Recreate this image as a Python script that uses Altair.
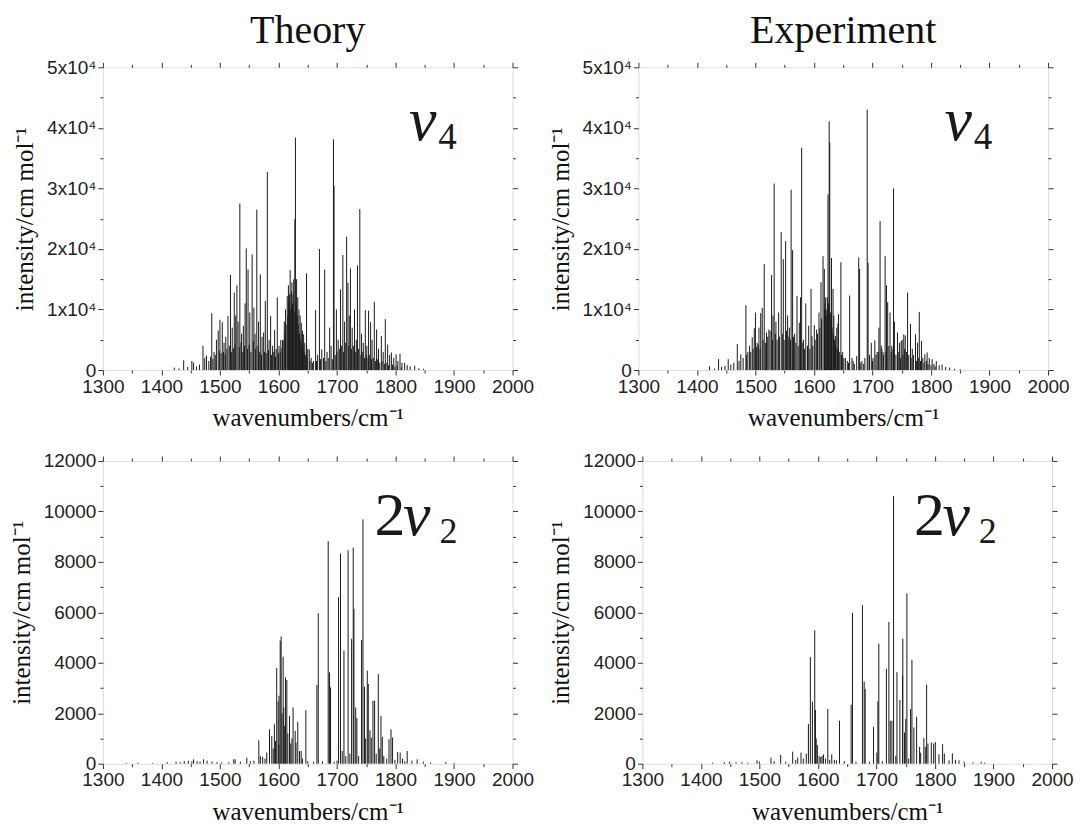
import altair as alt
import pandas as pd

# ---------------- data ----------------
# Theory, nu4 band
th4_wn = [1422, 1430, 1438, 1445, 1452, 1455, 1460, 1465, 1471, 1474, 1477, 1481, 1486, 1490, 1494, 1497,
          1500, 1504, 1507, 1510, 1513.7, 1518, 1521, 1524.5, 1527, 1529, 1531, 1534, 1537, 1540, 1543, 1545,
          1548, 1551, 1555, 1558, 1560, 1563, 1566, 1569, 1572, 1574.7, 1577.5, 1581, 1584, 1586.6, 1590, 1593.4,
          1596, 1598, 1601, 1604, 1607, 1610, 1612, 1615, 1617, 1620, 1622, 1624, 1626, 1628, 1629, 1631,
          1633, 1635, 1637, 1639, 1641, 1643, 1645, 1648, 1650, 1652.7, 1656, 1660, 1663.5, 1667, 1670, 1674,
          1677, 1679, 1683, 1687.5, 1690, 1694, 1695, 1699, 1702, 1706, 1710, 1713, 1716.5, 1718.8, 1721, 1723,
          1726, 1730, 1733, 1735, 1739, 1742, 1745, 1748.4, 1751, 1754, 1757.5, 1760, 1763.8, 1767.7, 1771, 1775.8,
          1779, 1782.6, 1786.6, 1790, 1793, 1797, 1801, 1804, 1807.7, 1811, 1815.7, 1820, 1825, 1832.8, 1840, 1848,
          1484, 1488, 1492, 1499, 1502, 1506, 1509, 1512, 1516, 1520, 1523, 1526, 1533, 1536, 1539, 1542,
          1547, 1550, 1553, 1557, 1561, 1565, 1568, 1571, 1576, 1579, 1583, 1588, 1592, 1595, 1600, 1603,
          1606, 1608, 1611, 1613, 1616, 1618, 1619, 1621, 1623, 1625, 1627, 1630, 1632, 1634, 1636, 1638,
          1640, 1642, 1644, 1646, 1649, 1654, 1658, 1665, 1672, 1681, 1685, 1692, 1697, 1700, 1704, 1708,
          1711, 1715, 1720, 1725, 1728, 1732, 1737, 1741, 1744, 1747, 1750, 1753, 1756, 1759, 1762, 1766,
          1769, 1773, 1777, 1781, 1784, 1788, 1795, 1799, 1803, 1810]
th4_int = [400, 250, 1600, 500, 1500, 1200, 600, 900, 4000, 2000, 2400, 1500, 9400, 3000, 5000, 6500,
           8300, 7900, 4500, 5500, 8900, 15700, 7000, 12800, 9000, 14000, 8000, 27500, 6000, 7300, 11000, 20100,
           16600, 9500, 19100, 10300, 6000, 26500, 8000, 15800, 5500, 6200, 11400, 32700, 5000, 8900, 4000, 6600,
           3500, 12000, 4000, 5000, 4900, 8000, 10000, 12200, 14000, 16500, 13000, 11000, 15000, 24900, 38400, 15000,
           12000, 10000, 9000, 7800, 6500, 5900, 4500, 16000, 3500, 3400, 2000, 1500, 9900, 2500, 20000, 3400,
           2000, 16600, 3000, 7000, 4000, 38100, 30400, 10000, 5000, 13300, 19000, 8000, 22000, 14400, 9000, 16800,
           7000, 10000, 5000, 17300, 26600, 6000, 4500, 9900, 4000, 9800, 7900, 5000, 11300, 6700, 3500, 5600,
           3000, 8400, 4200, 2500, 2900, 2000, 2600, 1500, 2700, 1200, 1200, 800, 600, 700, 300, 200,
           2200, 1800, 2500, 3200, 2800, 3000, 2600, 3500, 4000, 3000, 3600, 4200, 3800, 4500, 3000, 4000,
           3500, 4200, 3000, 4800, 3500, 4000, 3000, 2500, 3000, 2800, 3300, 2500, 3000, 2200, 2800, 3000,
           3600, 5000, 6000, 7500, 9000, 11000, 12500, 10000, 14500, 12500, 9500, 11000, 9000, 7500, 6000, 5000,
           4200, 3500, 3000, 2500, 2000, 1500, 1200, 1500, 1800, 1500, 2000, 1800, 2500, 3000, 3500, 4000,
           3000, 4500, 4000, 3500, 4000, 3000, 3500, 2500, 3000, 2000, 2500, 2000, 2500, 1800, 2000, 1500,
           1800, 1200, 1500, 1000, 1200, 800, 900, 600, 700, 400]

# Experiment, nu4 band
ex4_wn = [1421.5, 1430, 1437, 1442, 1448, 1453.5, 1458, 1463, 1469, 1472, 1475, 1479, 1483.7, 1487, 1490, 1494.5,
          1498, 1500, 1503, 1506, 1509, 1511.6, 1515, 1519, 1523, 1527.6, 1530, 1532, 1535, 1539.6, 1544, 1547.6,
          1551.6, 1555, 1558, 1561, 1563.5, 1567, 1571, 1575, 1577, 1579, 1582, 1586, 1591, 1595, 1596.6, 1600.6,
          1604.6, 1608.6, 1612, 1615.5, 1617.7, 1620, 1622, 1624, 1626, 1627, 1630, 1632.6, 1634, 1636.6, 1639, 1641,
          1642, 1646, 1649, 1653.7, 1657, 1661, 1665, 1669, 1673, 1676.5, 1678, 1682, 1687, 1691, 1692.5, 1695,
          1698, 1701, 1704, 1708, 1711, 1713, 1715, 1718, 1721.6, 1724, 1726, 1730, 1733, 1736, 1737.5, 1742.7,
          1746, 1749, 1750.7, 1753.5, 1756, 1760, 1765, 1768, 1773.5, 1777, 1780, 1783.7, 1786, 1789.5, 1793.4, 1797,
          1802, 1805, 1809, 1814, 1819, 1825, 1832, 1840, 1850,
          1485, 1492, 1496, 1502, 1505, 1508, 1513, 1517, 1521, 1525, 1529, 1534, 1537, 1541, 1546, 1549,
          1553, 1557, 1560, 1565, 1569, 1573, 1581, 1584, 1589, 1593, 1598, 1602, 1606, 1610, 1613, 1618,
          1619, 1621, 1623, 1625, 1628, 1629, 1631, 1633, 1635, 1637, 1640, 1644, 1647, 1651, 1659, 1667,
          1680, 1685, 1700, 1706, 1710, 1716, 1719, 1723, 1728, 1732, 1735, 1740, 1744, 1748, 1752, 1755,
          1758, 1762, 1766, 1770, 1775, 1779, 1782, 1788, 1792, 1795, 1800, 1807]
ex4_int = [600, 200, 1800, 500, 700, 1800, 900, 1200, 4300, 1500, 2600, 2000, 10700, 3000, 4000, 5400,
           6900, 9500, 4500, 7000, 9400, 10300, 17500, 6200, 6700, 15700, 9000, 30800, 8000, 9500, 22800, 18300,
           21300, 9000, 7000, 29800, 19800, 6000, 12200, 7800, 12000, 36700, 5000, 11000, 7300, 13400, 5600, 7400,
           6700, 9500, 14500, 18800, 16700, 12000, 10000, 29000, 41100, 37600, 18500, 13400, 9000, 5600, 7000, 7700,
           9200, 17800, 3000, 2000, 1500, 12300, 2000, 1000, 2300, 18600, 16700, 1500, 2000, 43000, 17700, 2500,
           4500, 2000, 4900, 3000, 7000, 24600, 4000, 3000, 18800, 14000, 11200, 9500, 4000, 30000, 8000, 6200,
           4500, 4800, 5000, 5900, 5700, 12800, 7600, 3500, 5900, 4500, 9600, 4800, 2000, 2600, 2900, 2000,
           1800, 1000, 1500, 800, 900, 500, 400, 200, 150,
           2500, 3000, 3500, 3800, 4200, 3500, 5000, 4500, 5500, 6500, 5000, 6000, 5000, 5500, 6000, 5000,
           6500, 5500, 5000, 5500, 4500, 4000, 4500, 3500, 4000, 3500, 4000, 5000, 6000, 7000, 8500, 10000,
           11000, 9000, 12000, 11000, 9500, 8000, 7000, 6000, 5000, 4000, 3500, 3000, 2500, 2000, 1200, 1500,
           1200, 1000, 1500, 2500, 3000, 3500, 2500, 3000, 4000, 3000, 3500, 2500, 3000, 2000, 2500, 3500,
           3000, 2500, 2000, 2500, 1500, 2000, 1500, 1200, 1500, 1000, 800, 600]

# Theory, 2nu2 band
th2_wn = [1340, 1360, 1385, 1410, 1425, 1432, 1439, 1446, 1452, 1455, 1461, 1466, 1472, 1478, 1486.5, 1495,
          1503, 1515, 1523.6, 1526, 1535, 1545.9, 1552, 1558, 1566.4, 1569, 1573, 1577, 1580, 1584.7, 1588.6, 1591,
          1593, 1595, 1597, 1599.5, 1600.6, 1601, 1603, 1604.6, 1606, 1608, 1609, 1610, 1612, 1614.3, 1616, 1618.9,
          1621, 1623, 1625, 1628.6, 1630, 1633, 1636, 1638.8, 1641, 1646.8, 1650, 1660, 1665.7, 1668, 1675, 1685,
          1687.3, 1689, 1695, 1700, 1702.7, 1706, 1709, 1711.9, 1715, 1719, 1722, 1725, 1727.8, 1729, 1732, 1734,
          1737, 1742, 1744.4, 1747, 1749, 1751.8, 1753.5, 1756.4, 1758.6, 1761.5, 1764.3, 1767, 1770.6, 1773, 1775.2, 1777.5,
          1780, 1785, 1788.9, 1792.3, 1795, 1799, 1803.7, 1808, 1812, 1816, 1820, 1828, 1837, 1847.6, 1860, 1886, 1900]
th2_int = [30, 40, 30, 60, 80, 60, 106, 120, 90, 172, 100, 80, 172, 120, 80, 60,
           50, 60, 172, 172, 80, 239, 100, 120, 928, 300, 265, 200, 438, 1366, 1100, 600,
           1565, 900, 3793, 2467, 770, 2692, 4880, 5040, 2000, 4244, 2228, 1500, 3421, 3316, 1200, 1896,
           800, 1000, 2228, 1300, 835, 1658, 500, 504, 200, 2122, 100, 80, 3117, 5968, 100, 8820,
           3621, 3024, 80, 120, 6605, 8329, 500, 4483, 300, 8462, 400, 4947, 8568, 6140, 2228, 1804,
           300, 4907, 9682, 3050, 1000, 3687, 3156, 1326, 1034, 2493, 2493, 400, 3554, 600, 1896, 1061,
           300, 200, 968, 1366, 1034, 150, 464, 438, 200, 100, 504, 120, 172, 80, 50, 66, 30]

# Experiment, 2nu2 band
ex2_wn = [1420, 1440, 1449, 1460, 1470, 1480, 1495.8, 1500, 1519.7, 1525, 1536.3, 1545, 1556.8, 1562, 1565.4, 1571,
          1575, 1580, 1583.7, 1587, 1590.5, 1594.5, 1595.7, 1597, 1599, 1602, 1604.8, 1607, 1609.4, 1613, 1616.8, 1620,
          1623.6, 1628, 1631.6, 1636.8, 1645, 1656.7, 1659, 1665, 1676, 1679, 1680.7, 1688, 1695, 1700.7, 1702.4, 1704,
          1710, 1717, 1721.2, 1723.5, 1726.4, 1729.2, 1733, 1735, 1740, 1744.6, 1745, 1748, 1750, 1752, 1755, 1758.3,
          1760.6, 1764, 1768.6, 1773.7, 1775.5, 1781, 1783.4, 1785.7, 1788, 1793.7, 1797.7, 1800.6, 1806.8, 1813, 1816, 1824,
          1829.7, 1835, 1841, 1850, 1865, 1879, 1885]
ex2_int = [40, 60, 80, 50, 60, 40, 133, 80, 239, 100, 345, 80, 478, 150, 239, 438,
           200, 399, 1568, 4226, 2458, 5289, 2126, 1000, 744, 300, 266, 300, 372, 200, 2166, 150,
           372, 150, 133, 1701, 100, 2339, 5980, 80, 6286, 3256, 2963, 80, 1462, 438, 2472, 4757,
           100, 3761, 5621, 1701, 1701, 10604, 300, 3628, 2525, 3495, 4957, 1236, 1768, 6751, 200, 2166,
           4120, 1435, 1860, 664, 438, 1010, 664, 3136, 797, 837, 797, 864, 372, 771, 399, 133,
           412, 150, 133, 80, 50, 66, 40]

X_MAJOR = [1300, 1400, 1500, 1600, 1700, 1800, 1900, 2000]
X_MINOR = [1350, 1450, 1550, 1650, 1750, 1850, 1950]
Y4_MAJOR = [0, 10000, 20000, 30000, 40000, 50000]
Y4_MINOR = [5000, 15000, 25000, 35000, 45000]
Y2_MAJOR = [0, 2000, 4000, 6000, 8000, 10000, 12000]
Y2_MINOR = [1000, 3000, 5000, 7000, 9000, 11000]

LABEL_NU4 = [("ν", "italic", 62, 1823, 38000), ("4", "normal", 37, 1873, 36500)]
LABEL_2NU2 = [("2", "normal", 62, 1764, 9060), ("ν", "italic", 62, 1813, 9060), ("2", "normal", 36, 1875, 8742)]

SERIF = "Liberation Serif"
SANS = "Liberation Sans"
INK = "#1a1a1a"
W, H = 410, 303


def panel(wn, inten, ymax, ymaj, ymin, labexpr, label, ytpad, title=None):
    df = pd.DataFrame({"wn": wn, "I": inten})
    xs = alt.Scale(domain=[1300, 2000], nice=False, zero=False)
    ys = alt.Scale(domain=[0, ymax], nice=False)

    def ax(orient, values, size, labels, ttl=None, lexpr=None, tpad=8):
        kw = dict(orient=orient, values=values, tickSize=size, labels=labels, domain=False,
                  grid=False, tickColor="#333", tickWidth=1)
        if labels:
            kw.update(labelFont=SANS, labelFontSize=19, labelColor="#222", labelPadding=2,
                      labelOverlap=False, labelFlush=False)
            kw["labelExpr"] = lexpr if lexpr else "format(datum.value, 'd')"
        if ttl:
            kw.update(title=ttl, titleFont=SERIF, titleFontSize=25, titleFontWeight="normal",
                      titleColor="#111", titlePadding=tpad)
        else:
            kw["title"] = None
        return alt.Axis(**kw)

    sticks = alt.Chart(df).mark_rule(color=INK, strokeWidth=1).encode(
        x=alt.X("wn:Q", scale=xs, axis=ax("bottom", X_MAJOR, 5, True, "wavenumbers/cm⁻¹", tpad=10)),
        y=alt.Y("I:Q", scale=ys, axis=ax("left", ymaj, 5, True, "intensity/cm mol⁻¹", labexpr, ytpad)),
        y2=alt.datum(0),
    )
    layers = [sticks]
    for xo, yo, xv, yv, sz in [("bottom", "left", X_MINOR, ymin, 3),
                               ("top", "right", X_MAJOR, ymaj, 5),
                               ("top", "right", X_MINOR, ymin, 3)]:
        layers.append(alt.Chart(df).mark_point(opacity=0).encode(
            x=alt.X("wn:Q", scale=xs, axis=ax(xo, xv, sz, False)),
            y=alt.Y("I:Q", scale=ys, axis=ax(yo, yv, sz, False)),
        ))
    for txt, style, size, lx, ly in label:
        ldf = pd.DataFrame({"wn": [lx], "I": [ly], "t": [txt]})
        layers.append(alt.Chart(ldf).mark_text(font=SERIF, fontStyle=style, fontSize=size, align="left",
                                               baseline="alphabetic", color=INK).encode(
            x=alt.X("wn:Q", scale=xs, axis=None),
            y=alt.Y("I:Q", scale=ys, axis=None),
            text="t:N",
        ))
    props = dict(width=W, height=H)
    if title:
        props["title"] = alt.TitleParams(title, font=SERIF, fontSize=40, fontWeight="normal", color="#111",
                                         frame="group", anchor="middle", offset=7)
    return alt.layer(*layers).resolve_axis(x="independent", y="independent").properties(**props)


expr4 = "datum.value == 0 ? '0' : format(datum.value / 10000, 'd') + 'x10⁴'"
expr2 = "format(datum.value, 'd')"

tl = panel(th4_wn, th4_int, 50000, Y4_MAJOR, Y4_MINOR, expr4, LABEL_NU4, 9, "Theory")
tr = panel(ex4_wn, ex4_int, 50000, Y4_MAJOR, Y4_MINOR, expr4, LABEL_NU4, 9, "Experiment")
bl = panel(th2_wn, th2_int, 12000, Y2_MAJOR, Y2_MINOR, expr2, LABEL_2NU2, 9)
br = panel(ex2_wn, ex2_int, 12000, Y2_MAJOR, Y2_MINOR, expr2, LABEL_2NU2, 9)

chart = alt.vconcat(
    alt.hconcat(tl, tr, spacing=13),
    alt.hconcat(bl, br, spacing=13),
    spacing=19,
).properties(padding={"top": 2, "left": 0, "right": 0, "bottom": 0}).configure_view(
    stroke="#333", strokeWidth=1).configure(background="white")

chart.save("out.html", embed_options={"renderer": "svg", "actions": False})
